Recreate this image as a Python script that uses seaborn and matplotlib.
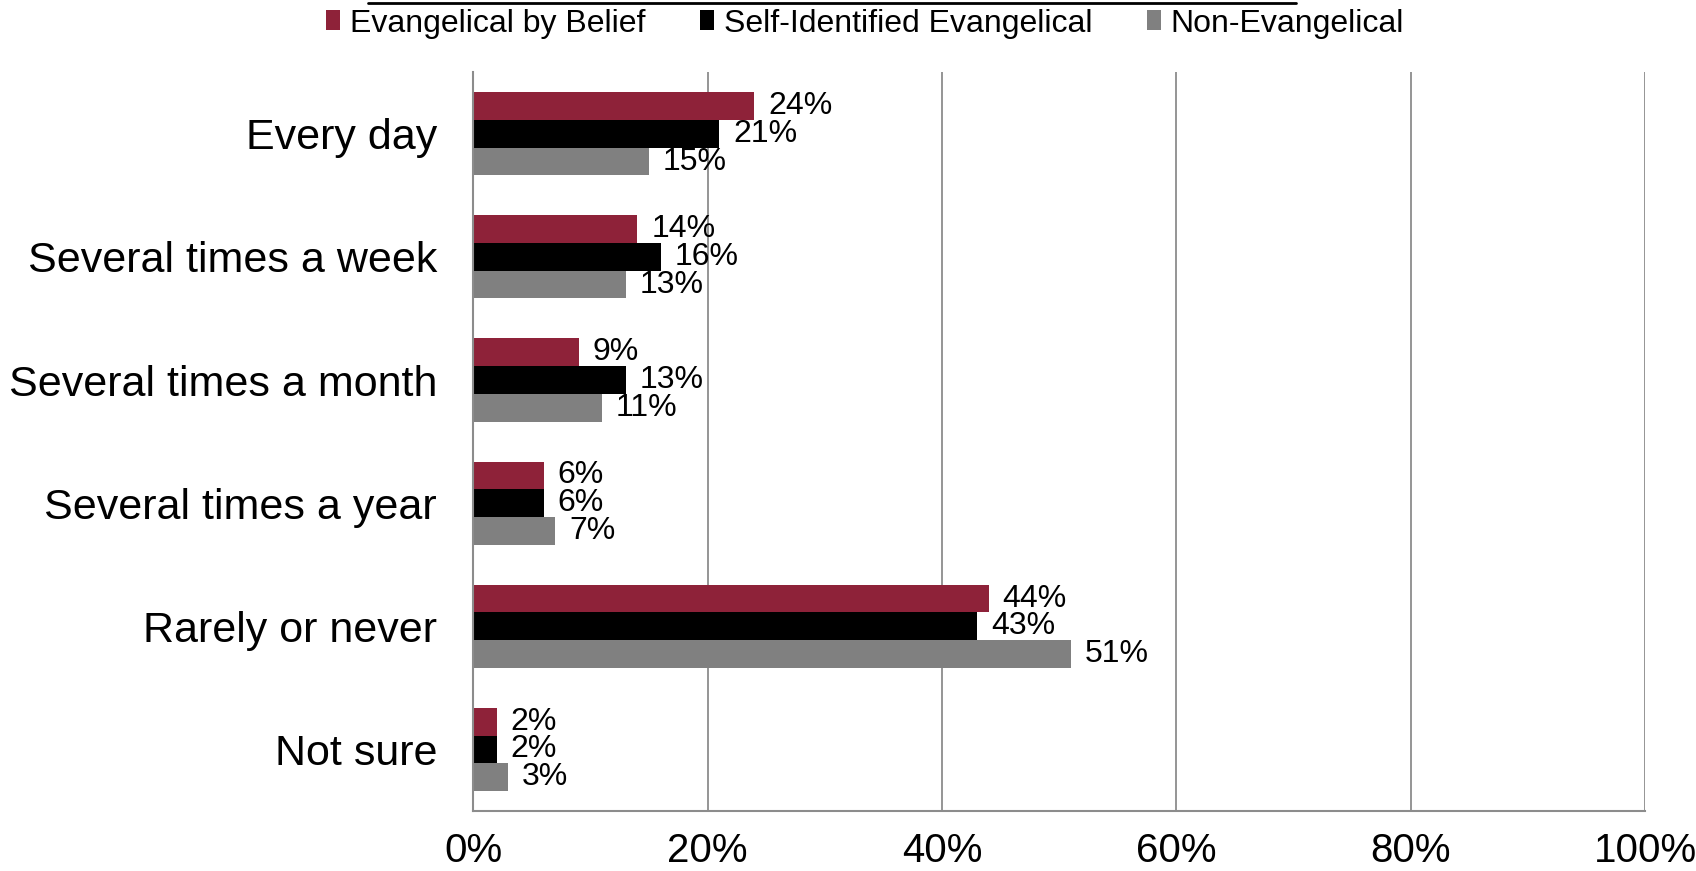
import matplotlib
matplotlib.use("Agg")
import matplotlib.pyplot as plt
import seaborn as sns
import pandas as pd
from matplotlib.lines import Line2D
from matplotlib.patches import Patch

categories = ["Every day", "Several times a week", "Several times a month",
              "Several times a year", "Rarely or never", "Not sure"]
series_names = ["Evangelical by Belief", "Self-Identified Evangelical", "Non-Evangelical"]
belief = [24, 14, 9, 6, 44, 2]
self_identified = [21, 16, 13, 6, 43, 2]
non_evangelical = [15, 13, 11, 7, 51, 3]
colors = ["#8E2239", "#000000", "#808080"]
x_ticks = [0, 20, 40, 60, 80, 100]

rows = []
for name, vals in zip(series_names, [belief, self_identified, non_evangelical]):
    for cat, v in zip(categories, vals):
        rows.append({"Frequency": cat, "Group": name, "Percent": v})
df = pd.DataFrame(rows)

sns.set_theme(style="white")
plt.rcParams["font.family"] = ["Liberation Sans", "DejaVu Sans"]
plt.rcParams["text.color"] = "black"
plt.rcParams["xtick.color"] = "black"
plt.rcParams["ytick.color"] = "black"

fig = plt.figure(figsize=(16.96, 8.71), dpi=100)
ax = fig.add_axes([0.279, 0.069, 0.691, 0.848])

sns.barplot(data=df, y="Frequency", x="Percent", hue="Group", order=categories,
            hue_order=series_names, palette=colors, orient="h", width=0.675,
            saturation=1, ax=ax, legend=False, edgecolor="none")

for cont in ax.containers:
    ax.bar_label(cont, labels=[f"{v:.0f}%" for v in cont.datavalues],
                 padding=10, fontsize=23, color="black")

ax.set_xlim(0, 100)
ax.set_xticks(x_ticks)
ax.set_xticklabels([f"{t}%" for t in x_ticks], fontsize=29)
ax.tick_params(axis="x", length=0, pad=15, labelcolor="black")
ax.tick_params(axis="y", length=0, pad=26, labelsize=31, labelcolor="black")
ax.set_xlabel("")
ax.set_ylabel("")
ax.grid(axis="x", color="#8c8c8c", linewidth=1.3)
ax.set_axisbelow(True)
for side in ["top", "right"]:
    ax.spines[side].set_visible(False)
for side in ["left", "bottom"]:
    ax.spines[side].set_color("#8c8c8c")
    ax.spines[side].set_linewidth(1.5)

handles = [Patch(facecolor=c, edgecolor="none") for c in colors]
fig.legend(handles, series_names, loc="center", bbox_to_anchor=(0.51, 0.973),
           ncol=3, frameon=False, fontsize=23, handlelength=0.45, handleheight=0.6,
           handletextpad=0.3, columnspacing=1.7, labelcolor="black")

fig.add_artist(Line2D([0.217, 0.764], [0.9966, 0.9966], color="black",
                      linewidth=2, transform=fig.transFigure))

fig.savefig("out.png", dpi=100)
